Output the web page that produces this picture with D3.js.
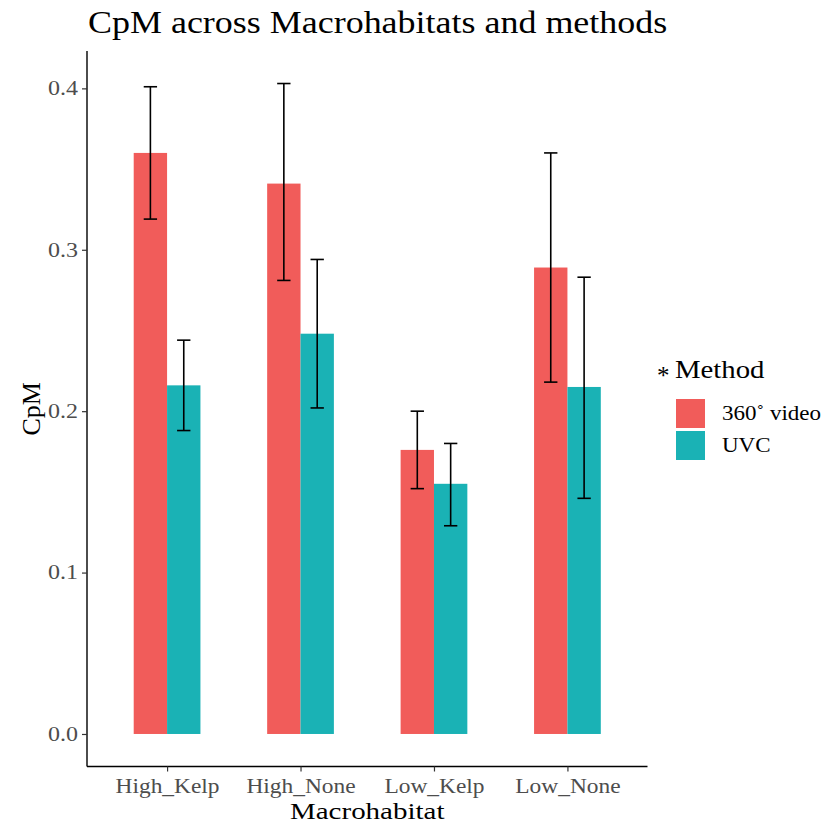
<!DOCTYPE html>
<html>
<head>
<meta charset="utf-8">
<script src="https://cdn.jsdelivr.net/npm/d3@7"></script>
<style>
  html, body { margin: 0; padding: 0; background: #fff; }
  svg { display: block; }
  text { font-family: "Liberation Serif", "DejaVu Serif", serif; }
</style>
</head>
<body>
<svg id="chart" width="827" height="825"></svg>
<script>
// Macrohabitat categories
const categories = ["High_Kelp", "High_None", "Low_Kelp", "Low_None"];
// Method series
const methods = ["360\u02DA video", "UVC"];
// Mean CpM per method
const videoMean = [0.360, 0.341, 0.176, 0.289];
const uvcMean   = [0.216, 0.248, 0.155, 0.215];
// Error bar bounds
const videoLow  = [0.319, 0.281, 0.152, 0.218];
const videoHigh = [0.401, 0.403, 0.200, 0.360];
const uvcLow    = [0.188, 0.202, 0.129, 0.146];
const uvcHigh   = [0.244, 0.294, 0.180, 0.283];
// Y-axis ticks
const yTicks = [0.0, 0.1, 0.2, 0.3, 0.4];

const colors = ["#F15C5A", "#1AB2B5"];

const rows = [];
categories.forEach((c, i) => {
  rows.push({ cat: i, m: 0, v: videoMean[i], lo: videoLow[i], hi: videoHigh[i] });
  rows.push({ cat: i, m: 1, v: uvcMean[i], lo: uvcLow[i], hi: uvcHigh[i] });
});

const svg = d3.select("#chart");

// Widen horizontal text a little (the typeface is drawn slightly wide)
const WIDEN = 1.18;
function widen(sel, k = WIDEN) {
  sel.each(function () {
    const w = this.getComputedTextLength();
    d3.select(this).attr("textLength", w * k).attr("lengthAdjust", "spacingAndGlyphs");
  });
}

// Discrete x positions 1..n with 0.6 padding either side
const x = d3.scaleLinear().domain([0.4, categories.length + 0.6]).range([87, 647.5]);
const yMaxData = d3.max(rows, d => d.hi);
const yPad = yMaxData * 0.05;
const y = d3.scaleLinear().domain([-yPad, yMaxData + yPad]).range([766.5, 51]);

const dodge = 0.5, barW = dodge / 2;
const barX = d => (d.cat + 1) - dodge / 2 + d.m * barW;
const barC = d => barX(d) + barW / 2;

// Bars
svg.append("g").selectAll("rect").data(rows).join("rect")
  .attr("x", d => x(barX(d)))
  .attr("width", d => x(barX(d) + barW) - x(barX(d)))
  .attr("y", d => y(d.v))
  .attr("height", d => y(0) - y(d.v))
  .attr("fill", d => colors[d.m]);

// Error bars
const capHalf = 0.05;
const eb = svg.append("g").attr("stroke", "#000").attr("stroke-width", 1.6).attr("fill", "none");
rows.forEach(d => {
  const cx = x(barC(d));
  eb.append("line").attr("x1", cx).attr("x2", cx).attr("y1", y(d.lo)).attr("y2", y(d.hi));
  [d.lo, d.hi].forEach(v => {
    eb.append("line")
      .attr("x1", x(barC(d) - capHalf)).attr("x2", x(barC(d) + capHalf))
      .attr("y1", y(v)).attr("y2", y(v));
  });
});

// Y axis
const yAxis = d3.axisLeft(y).tickValues(yTicks).tickFormat(d3.format(".1f")).tickSize(5).tickPadding(4);
const gy = svg.append("g").attr("transform", `translate(${x.range()[0]},0)`).call(yAxis);
gy.select(".domain").attr("d", `M0,${y.range()[0]}V${y.range()[1]}`).attr("stroke", "#000").attr("stroke-width", 1.4);
gy.selectAll(".tick line").attr("stroke", "#333").attr("stroke-width", 1.2);
gy.selectAll(".tick text").attr("fill", "#4d4d4d").style("font-size", "20px")
  .style("font-family", "Liberation Serif").call(widen, 1.2);

// X axis
const xAxis = d3.axisBottom(x).tickValues(categories.map((c, i) => i + 1))
  .tickFormat((d, i) => categories[i]).tickSize(5).tickPadding(7);
const gx = svg.append("g").attr("transform", `translate(0,${y.range()[0]})`).call(xAxis);
gx.select(".domain").attr("d", `M${x.range()[0]},0H${x.range()[1]}`).attr("stroke", "#000").attr("stroke-width", 1.4);
gx.selectAll(".tick line").attr("stroke", "#333").attr("stroke-width", 1.2);
gx.selectAll(".tick text").attr("fill", "#4d4d4d").style("font-size", "20px")
  .style("font-family", "Liberation Serif").call(widen, 1.17);

// Axis titles
svg.append("text").attr("x", (x.range()[0] + x.range()[1]) / 2).attr("y", 819)
  .attr("text-anchor", "middle").style("font-size", "23px").attr("fill", "#000").text("Macrohabitat")
  .call(widen, 1.26);
svg.append("text").attr("transform", `translate(40,${(y.range()[0] + y.range()[1]) / 2}) rotate(-90)`)
  .attr("text-anchor", "middle").style("font-size", "26px").attr("fill", "#000").text("CpM");

// Title
svg.append("text").attr("x", 88).attr("y", 33).style("font-size", "31px").attr("fill", "#000")
  .text("CpM across Macrohabitats and methods").call(widen, 1.16);

// Legend
const lg = svg.append("g");
lg.append("text").attr("x", 657).attr("y", 384).style("font-size", "25px").attr("fill", "#000").text("*");
lg.append("text").attr("x", 675).attr("y", 378).style("font-size", "25px").attr("fill", "#000").text("Method")
  .call(widen, 1.15);
methods.forEach((m, i) => {
  lg.append("rect").attr("x", 676).attr("y", 399 + i * 32).attr("width", 29).attr("height", 29).attr("fill", colors[i]);
  lg.append("text").attr("x", 722).attr("y", 420 + i * 32).style("font-size", "20px").attr("fill", "#000").text(m)
    .call(widen, 1.15);
});
</script>
</body>
</html>
